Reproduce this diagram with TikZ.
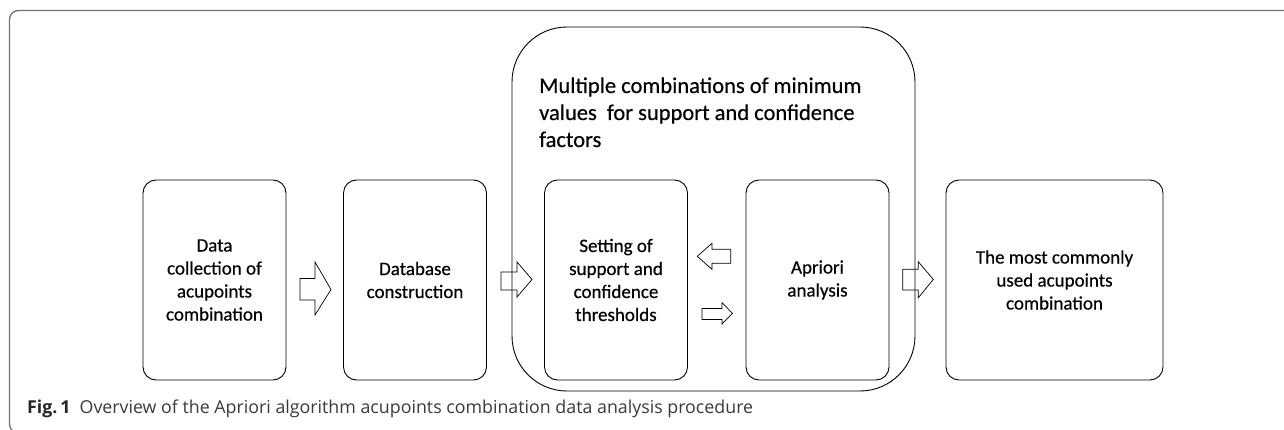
\documentclass[tikz,border=0pt]{standalone}
\usepackage{fontspec}
\setmainfont{Carlito}
\newfontfamily\nodefont{Carlito}[FakeBold=0.4]
\newfontfamily\capfont{Open Sans}
\definecolor{framegray}{HTML}{707070}
\definecolor{captext}{HTML}{3A3A3A}
\begin{document}
\begin{tikzpicture}[x=1pt,y=-1pt,
  stepbox/.style={draw=black,line width=0.9pt,rounded corners=13pt,minimum width=143pt,minimum height=200pt,align=center,inner sep=0pt,font=\nodefont\fontsize{19}{23}\selectfont},
  blockarrow/.style={draw=black,line width=0.7pt,line join=miter}]
\useasboundingbox (0,0) rectangle (1284,430);
\clip (0,0) rectangle (1284,430);
% outer frame
\draw[framegray,line width=1.3pt,rounded corners=9pt] (9.5,10.5) rectangle (1320,433);
% group box
\node[draw=black,line width=0.9pt,rounded corners=55pt,minimum width=403pt,minimum height=364pt,inner sep=0pt] (grp) at (713.5,209) {};
\node[anchor=base west,inner sep=0pt,align=left,font=\nodefont\fontsize{22.5}{27}\selectfont] (title) at (539,147) {Multiple combinations of minimum\\values\ \ for support and confidence\\factors};
% boxes
\node[stepbox] (b1) at (214.5,280) {Data\\collection of\\acupoints\\combination};
\node[stepbox] (b2) at (415,280) {Database\\construction};
\node[stepbox] (b3) at (616,280) {Setting of\\support and\\confidence\\thresholds};
\node[stepbox] (b4) at (817.5,280) {Apriori\\analysis};
\node[stepbox,minimum width=217pt] (b5) at (1054.5,280) {The most commonly\\used acupoints\\combination};
% block arrows
\draw[blockarrow] (300,278.5) -- (315,278.5) -- (315,262) -- (331,289.5) -- (315,315) -- (315,300) -- (300,300) -- cycle;
\draw[blockarrow] (501,272) -- (517,272) -- (517,262) -- (532,279.5) -- (517,297) -- (517,290) -- (501,290) -- cycle;
\draw[blockarrow] (730.7,249.3) -- (712,249.3) -- (712,243.3) -- (697.3,256.3) -- (712,269.3) -- (712,263.3) -- (730.7,263.3) -- cycle;
\draw[blockarrow] (702,308.5) -- (722,308.5) -- (722,302.7) -- (732.5,313.3) -- (722,324) -- (722,319.5) -- (702,319.5) -- cycle;
\draw[blockarrow] (902.7,269.3) -- (918.3,269.3) -- (918.3,261.7) -- (933.3,279.5) -- (918.3,297.7) -- (918.3,290) -- (902.7,290) -- cycle;
% caption
\node[anchor=base west,inner sep=0pt,font=\capfont\fontsize{17.8}{21}\selectfont,text=captext] (cap) at (27,413) {{\bfseries\color{black!85}Fig.\,1}\hspace{9pt}Overview of the Apriori algorithm acupoints combination data analysis procedure};
\end{tikzpicture}
\end{document}
